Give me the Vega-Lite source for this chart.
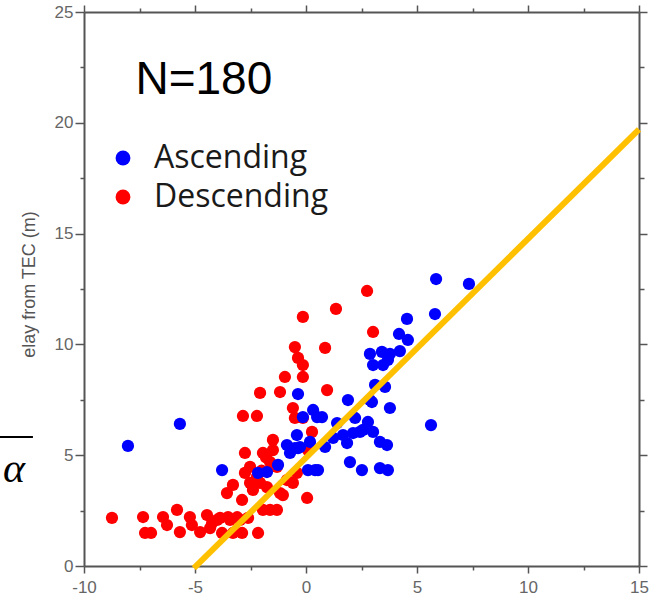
{
  "$schema": "https://vega.github.io/schema/vega-lite/v6.json",
  "width": 555,
  "height": 554,
  "autosize": {"type": "none"},
  "padding": {"left": 84, "top": 12, "right": 18, "bottom": 34},
  "background": "white",
  "config": {
    "view": {"stroke": null},
    "axis": {
      "grid": false,
      "domainColor": "#555555",
      "domainWidth": 2,
      "tickColor": "#555555",
      "tickWidth": 1.5,
      "labelColor": "#666666",
      "labelFont": "Liberation Sans",
      "labelFontSize": 17,
      "labelFlush": false,
      "labelOverlap": false
    }
  },
  "datasets": {
    "pts": [
      {"x": -8.74, "y": 2.17, "type": "Descending"},
      {"x": -7.34, "y": 2.21, "type": "Descending"},
      {"x": -7.25, "y": 1.49, "type": "Descending"},
      {"x": -6.98, "y": 1.49, "type": "Descending"},
      {"x": -6.44, "y": 2.21, "type": "Descending"},
      {"x": -6.26, "y": 1.85, "type": "Descending"},
      {"x": -5.81, "y": 2.53, "type": "Descending"},
      {"x": -5.68, "y": 1.53, "type": "Descending"},
      {"x": -5.23, "y": 2.21, "type": "Descending"},
      {"x": -5.14, "y": 1.85, "type": "Descending"},
      {"x": -4.77, "y": 1.53, "type": "Descending"},
      {"x": -4.46, "y": 2.3, "type": "Descending"},
      {"x": -4.32, "y": 1.71, "type": "Descending"},
      {"x": -4.23, "y": 1.94, "type": "Descending"},
      {"x": -4.0, "y": 2.08, "type": "Descending"},
      {"x": -3.87, "y": 2.17, "type": "Descending"},
      {"x": -3.78, "y": 1.49, "type": "Descending"},
      {"x": -3.51, "y": 2.21, "type": "Descending"},
      {"x": -3.42, "y": 2.08, "type": "Descending"},
      {"x": -3.29, "y": 1.49, "type": "Descending"},
      {"x": -3.1, "y": 2.2, "type": "Descending"},
      {"x": -2.97, "y": 2.08, "type": "Descending"},
      {"x": -2.88, "y": 1.49, "type": "Descending"},
      {"x": -2.61, "y": 2.17, "type": "Descending"},
      {"x": -2.16, "y": 1.49, "type": "Descending"},
      {"x": -3.56, "y": 3.29, "type": "Descending"},
      {"x": -3.29, "y": 3.66, "type": "Descending"},
      {"x": -2.88, "y": 2.98, "type": "Descending"},
      {"x": -2.52, "y": 3.75, "type": "Descending"},
      {"x": -2.39, "y": 3.43, "type": "Descending"},
      {"x": -2.75, "y": 4.2, "type": "Descending"},
      {"x": -2.52, "y": 4.47, "type": "Descending"},
      {"x": -2.75, "y": 5.1, "type": "Descending"},
      {"x": -2.21, "y": 4.02, "type": "Descending"},
      {"x": -2.07, "y": 3.75, "type": "Descending"},
      {"x": -2.0, "y": 4.3, "type": "Descending"},
      {"x": -1.94, "y": 5.1, "type": "Descending"},
      {"x": -1.8, "y": 4.9, "type": "Descending"},
      {"x": -1.76, "y": 3.56, "type": "Descending"},
      {"x": -1.94, "y": 2.53, "type": "Descending"},
      {"x": -1.62, "y": 2.53, "type": "Descending"},
      {"x": -1.31, "y": 2.53, "type": "Descending"},
      {"x": -1.49, "y": 5.69, "type": "Descending"},
      {"x": -1.49, "y": 5.23, "type": "Descending"},
      {"x": -1.31, "y": 4.47, "type": "Descending"},
      {"x": -1.62, "y": 4.69, "type": "Descending"},
      {"x": -1.17, "y": 3.29, "type": "Descending"},
      {"x": -1.04, "y": 3.2, "type": "Descending"},
      {"x": -0.86, "y": 3.88, "type": "Descending"},
      {"x": -0.59, "y": 3.75, "type": "Descending"},
      {"x": -0.41, "y": 4.2, "type": "Descending"},
      {"x": -2.84, "y": 6.77, "type": "Descending"},
      {"x": -2.21, "y": 6.77, "type": "Descending"},
      {"x": -2.07, "y": 7.81, "type": "Descending"},
      {"x": -1.17, "y": 7.85, "type": "Descending"},
      {"x": -0.95, "y": 8.53, "type": "Descending"},
      {"x": -0.5, "y": 9.88, "type": "Descending"},
      {"x": -0.36, "y": 9.39, "type": "Descending"},
      {"x": -0.14, "y": 9.07, "type": "Descending"},
      {"x": -0.14, "y": 8.53, "type": "Descending"},
      {"x": -0.14, "y": 11.24, "type": "Descending"},
      {"x": -0.59, "y": 7.13, "type": "Descending"},
      {"x": -0.5, "y": 6.68, "type": "Descending"},
      {"x": -0.14, "y": 6.68, "type": "Descending"},
      {"x": 0.27, "y": 6.05, "type": "Descending"},
      {"x": 0.09, "y": 5.23, "type": "Descending"},
      {"x": 0.05, "y": 3.07, "type": "Descending"},
      {"x": 0.86, "y": 9.84, "type": "Descending"},
      {"x": 0.95, "y": 7.94, "type": "Descending"},
      {"x": 1.35, "y": 11.6, "type": "Descending"},
      {"x": 2.75, "y": 12.41, "type": "Descending"},
      {"x": 3.02, "y": 10.56, "type": "Descending"},
      {"x": -8.02, "y": 5.42, "type": "Ascending"},
      {"x": -5.68, "y": 6.41, "type": "Ascending"},
      {"x": -3.78, "y": 4.33, "type": "Ascending"},
      {"x": -0.36, "y": 7.76, "type": "Ascending"},
      {"x": -0.86, "y": 5.46, "type": "Ascending"},
      {"x": -0.72, "y": 5.1, "type": "Ascending"},
      {"x": -0.41, "y": 5.91, "type": "Ascending"},
      {"x": -0.36, "y": 5.32, "type": "Ascending"},
      {"x": -0.5, "y": 5.32, "type": "Ascending"},
      {"x": -0.27, "y": 5.37, "type": "Ascending"},
      {"x": 0.18, "y": 5.6, "type": "Ascending"},
      {"x": 0.32, "y": 7.04, "type": "Ascending"},
      {"x": 0.72, "y": 6.72, "type": "Ascending"},
      {"x": 0.86, "y": 5.37, "type": "Ascending"},
      {"x": 0.09, "y": 4.33, "type": "Ascending"},
      {"x": 0.41, "y": 4.33, "type": "Ascending"},
      {"x": 0.54, "y": 4.33, "type": "Ascending"},
      {"x": -2.16, "y": 4.2, "type": "Ascending"},
      {"x": -1.76, "y": 4.24, "type": "Ascending"},
      {"x": -1.26, "y": 4.56, "type": "Ascending"},
      {"x": -0.14, "y": 6.72, "type": "Ascending"},
      {"x": 0.5, "y": 6.72, "type": "Ascending"},
      {"x": 1.89, "y": 7.49, "type": "Ascending"},
      {"x": 3.11, "y": 8.17, "type": "Ascending"},
      {"x": 3.56, "y": 8.08, "type": "Ascending"},
      {"x": 2.88, "y": 7.49, "type": "Ascending"},
      {"x": 2.97, "y": 7.4, "type": "Ascending"},
      {"x": 3.78, "y": 7.13, "type": "Ascending"},
      {"x": 1.4, "y": 6.45, "type": "Ascending"},
      {"x": 2.21, "y": 6.68, "type": "Ascending"},
      {"x": 2.79, "y": 6.5, "type": "Ascending"},
      {"x": 2.57, "y": 6.14, "type": "Ascending"},
      {"x": 2.43, "y": 6.05, "type": "Ascending"},
      {"x": 2.12, "y": 6.0, "type": "Ascending"},
      {"x": 3.02, "y": 6.05, "type": "Ascending"},
      {"x": 1.67, "y": 5.91, "type": "Ascending"},
      {"x": 1.22, "y": 5.78, "type": "Ascending"},
      {"x": 1.85, "y": 5.55, "type": "Ascending"},
      {"x": 3.33, "y": 5.6, "type": "Ascending"},
      {"x": 3.65, "y": 5.46, "type": "Ascending"},
      {"x": 1.98, "y": 4.69, "type": "Ascending"},
      {"x": 2.52, "y": 4.33, "type": "Ascending"},
      {"x": 3.33, "y": 4.42, "type": "Ascending"},
      {"x": 3.69, "y": 4.33, "type": "Ascending"},
      {"x": 5.86, "y": 12.95, "type": "Ascending"},
      {"x": 7.34, "y": 12.73, "type": "Ascending"},
      {"x": 4.55, "y": 11.15, "type": "Ascending"},
      {"x": 5.81, "y": 11.37, "type": "Ascending"},
      {"x": 4.19, "y": 10.47, "type": "Ascending"},
      {"x": 4.59, "y": 10.2, "type": "Ascending"},
      {"x": 2.88, "y": 9.57, "type": "Ascending"},
      {"x": 3.42, "y": 9.66, "type": "Ascending"},
      {"x": 3.78, "y": 9.57, "type": "Ascending"},
      {"x": 4.23, "y": 9.7, "type": "Ascending"},
      {"x": 3.02, "y": 9.07, "type": "Ascending"},
      {"x": 3.47, "y": 9.07, "type": "Ascending"},
      {"x": 3.69, "y": 9.3, "type": "Ascending"},
      {"x": 5.63, "y": 6.36, "type": "Ascending"}
    ],
    "fit": [
      {"x": -5.05, "y": -0.1},
      {"x": 15, "y": 19.7}
    ]
  },
  "layer": [
    {
      "data": {"name": "pts"},
      "mark": {"type": "circle", "size": 150, "opacity": 1},
      "encoding": {
        "x": {
          "field": "x", "type": "quantitative",
          "scale": {"domain": [-10, 15], "nice": false, "zero": false},
          "axis": {
            "orient": "bottom",
            "title": null,
            "values": [-10, -7.5, -5, -2.5, 0, 2.5, 5, 7.5, 10, 12.5, 15],
            "labelExpr": "datum.value % 5 === 0 ? toString(datum.value) : ''",
            "labelFont": "Liberation Sans",
            "labelFontSize": 17,
            "labelColor": "#666666",
            "tickSize": {"condition": {"test": "datum.value % 5 === 0", "value": 7}, "value": 4},
            "labelPadding": 6
          }
        },
        "y": {
          "field": "y", "type": "quantitative",
          "scale": {"domain": [0, 25], "nice": false, "zero": false},
          "axis": {
            "orient": "left",
            "values": [0, 2.5, 5, 7.5, 10, 12.5, 15, 17.5, 20, 22.5, 25],
            "labelExpr": "datum.value % 5 === 0 ? toString(datum.value) : ''",
            "labelFont": "Liberation Sans",
            "labelFontSize": 17,
            "labelColor": "#666666",
            "tickSize": {"condition": {"test": "datum.value % 5 === 0", "value": 9}, "value": 4},
            "labelPadding": 2,
            "title": "elay from TEC (m)",
            "titleFont": "Liberation Sans",
            "titleFontSize": 18,
            "titleFontWeight": "normal",
            "titleColor": "#555555",
            "titleX": -55,
            "titleY": 272,
            "titleAngle": -90,
            "titleAlign": "center",
            "titleBaseline": "middle"
          }
        },
        "color": {
          "field": "type", "type": "nominal",
          "scale": {"domain": ["Ascending", "Descending"], "range": ["#0000FF", "#FF0000"]},
          "legend": {
            "title": null,
            "orient": "none",
            "legendX": 23,
            "legendY": 130,
            "padding": 0,
            "labelFont": "Open Sans",
            "labelFontSize": 32,
            "labelColor": "#1a1a1a",
            "labelLimit": 0,
            "labelOffset": 15,
            "rowPadding": 7,
            "symbolType": "circle",
            "symbolSize": 220,
            "symbolStrokeWidth": 0
          }
        }
      }
    },
    {
      "data": {"name": "fit"},
      "mark": {"type": "line", "color": "#FFC000", "strokeWidth": 6, "clip": false},
      "encoding": {
        "x": {
          "field": "x", "type": "quantitative",
          "scale": {"domain": [-10, 15], "nice": false, "zero": false},
          "axis": {
            "orient": "top",
            "title": null,
            "labels": false,
            "values": [-10, -7.5, -5, -2.5, 0, 2.5, 5, 7.5, 10, 12.5, 15],
            "tickSize": {"condition": {"test": "datum.value % 5 === 0", "value": 7}, "value": 4}
          }
        },
        "y": {
          "field": "y", "type": "quantitative",
          "scale": {"domain": [0, 25], "nice": false, "zero": false},
          "axis": {
            "orient": "right",
            "title": null,
            "labels": false,
            "values": [0, 2.5, 5, 7.5, 10, 12.5, 15, 17.5, 20, 22.5, 25],
            "tickSize": {"condition": {"test": "datum.value % 5 === 0", "value": 8}, "value": 5}
          }
        }
      }
    },
    {
      "data": {"values": [{"label": "N=180"}]},
      "mark": {"type": "text", "font": "Liberation Sans", "fontSize": 46, "color": "#000000", "align": "center", "baseline": "middle"},
      "encoding": {
        "x": {"datum": -4.6, "type": "quantitative", "scale": {"domain": [-10, 15], "nice": false, "zero": false}, "axis": null},
        "y": {"datum": 21.95, "type": "quantitative", "scale": {"domain": [0, 25], "nice": false, "zero": false}, "axis": null},
        "text": {"field": "label"}
      }
    },
    {
      "data": {"values": [{"label": "α"}]},
      "mark": {"type": "text", "font": "Liberation Serif", "fontStyle": "italic", "fontSize": 42, "color": "#000000", "align": "center", "baseline": "alphabetic"},
      "encoding": {
        "x": {"datum": -13.15, "type": "quantitative", "scale": {"domain": [-10, 15], "nice": false, "zero": false}, "axis": null},
        "y": {"datum": 3.8, "type": "quantitative", "scale": {"domain": [0, 25], "nice": false, "zero": false}, "axis": null},
        "text": {"field": "label"}
      }
    },
    {
      "data": {"values": [{"a": 1}]},
      "mark": {"type": "rule", "color": "#000000", "strokeWidth": 2},
      "encoding": {
        "x": {"datum": -13.8, "type": "quantitative", "scale": {"domain": [-10, 15], "nice": false, "zero": false}, "axis": null},
        "x2": {"datum": -12.3},
        "y": {"datum": 5.82, "type": "quantitative", "scale": {"domain": [0, 25], "nice": false, "zero": false}, "axis": null}
      }
    }
  ],
  "resolve": {"axis": {"x": "independent", "y": "independent"}}
}
